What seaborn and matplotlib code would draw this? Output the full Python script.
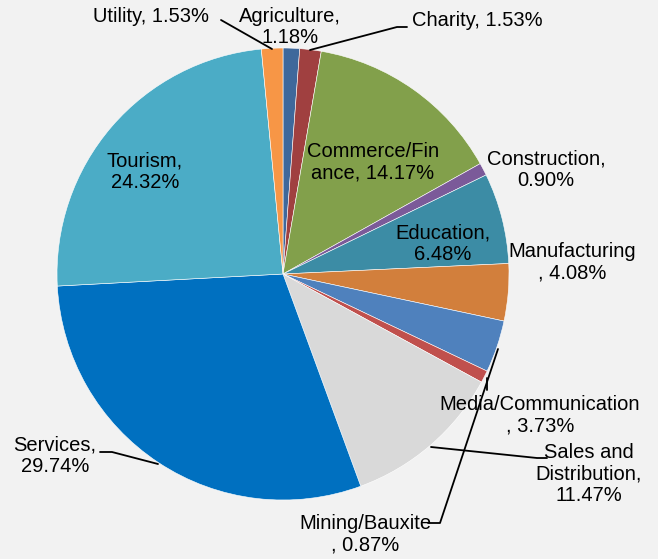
import matplotlib
matplotlib.use("Agg")
import matplotlib.pyplot as plt
import seaborn as sns
import numpy as np

categories = ["Agriculture", "Charity", "Commerce/Finance", "Construction", "Education",
              "Manufacturing", "Media/Communication", "Mining/Bauxite",
              "Sales and Distribution", "Services", "Tourism", "Utility"]
values = [1.18, 1.53, 14.17, 0.90, 6.48, 4.08, 3.73, 0.87, 11.47, 29.74, 24.32, 1.53]
label_texts = ["Agriculture,\n1.18%", "Charity, 1.53%", "Commerce/Fin\nance, 14.17%",
               "Construction,\n0.90%", "Education,\n6.48%", "Manufacturing\n, 4.08%",
               "Media/Communication\n, 3.73%", "Mining/Bauxite\n, 0.87%",
               "Sales and\nDistribution,\n11.47%",
               "Services,\n29.74%", "Tourism,\n24.32%", "Utility, 1.53%"]
colors = ["#3F689B", "#A04040", "#82A04B", "#7B5A99", "#3C8CA5", "#D27F3C",
          "#4F81BD", "#C0504D", "#D9D9D9", "#0070C0", "#4BACC6", "#F79646"]

sns.set_style("white")
plt.rcParams['font.family'] = ['Liberation Sans', 'DejaVu Sans']

W, H = 658, 559
fig = plt.figure(figsize=(W / 100, H / 100), dpi=100, facecolor="#F2F2F2")
ax = fig.add_axes([0, 0, 1, 1])
ax.set_facecolor("#F2F2F2")

cx, cy, r = 283, 274, 226
# y axis is inverted below, so startangle=-90 points up and counterclock=True runs clockwise on screen
wedges, _ = ax.pie(values, colors=colors, startangle=-90, counterclock=True,
                   center=(cx, cy), radius=r, frame=True,
                   wedgeprops=dict(edgecolor="white", linewidth=0.4))
ax.set_xlim(0, W)
ax.set_ylim(H, 0)
ax.set_aspect("equal")
ax.axis("off")

fs = 14.5
def txt(x, y, s, ha="center"):
    ax.text(x, y, s, ha=ha, va="center", fontsize=fs, color="black", linespacing=1.17)

txt(151, 17, label_texts[11])
txt(290, 27, label_texts[0])
txt(477, 20, label_texts[1])
txt(373, 162, label_texts[2])
txt(546, 170, label_texts[3])
txt(443, 244, label_texts[4])
txt(572, 262, label_texts[5])
txt(540, 415, label_texts[6])
txt(589, 474, label_texts[8])
txt(365, 534, label_texts[7])
txt(55, 456, label_texts[9])
txt(145, 172, label_texts[10])

lk = dict(color="black", lw=1.3)
ax.plot([221, 272], [20, 49], **lk)
ax.plot([310, 397, 407], [50, 27, 27], **lk)
ax.plot([487, 487], [378, 390], **lk)
ax.plot([431, 537, 547], [447, 458, 458], **lk)
ax.plot([498, 440, 428], [349, 523, 523], **lk)
ax.plot([100, 112, 158], [452, 452, 464], **lk)

fig.savefig("out.png", dpi=100, facecolor=fig.get_facecolor())
